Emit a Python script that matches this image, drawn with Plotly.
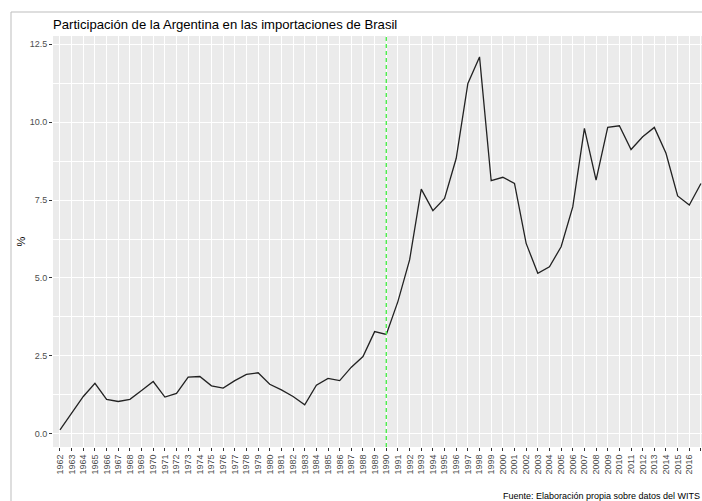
import plotly.graph_objects as go

anios = list(range(1962, 2018))
participacion = [
    0.13, 0.66, 1.20, 1.62, 1.11, 1.04, 1.11, 1.39, 1.68, 1.18,
    1.30, 1.82, 1.84, 1.54, 1.47, 1.71, 1.91, 1.96, 1.59, 1.41,
    1.20, 0.93, 1.56, 1.78, 1.71, 2.14, 2.48, 3.28, 3.19, 4.25,
    5.58, 7.85, 7.16, 7.55, 8.84, 11.24, 12.09, 8.12, 8.23, 8.03,
    6.11, 5.15, 5.36, 6.00, 7.28, 9.80, 8.14, 9.83, 9.88, 9.12,
    9.53, 9.83, 9.00, 7.63, 7.34, 8.03,
]
anio_corte = 1990
titulo = "Participación de la Argentina en las importaciones de Brasil"
fuente = "Fuente: Elaboración propia sobre datos del WITS"
y_ticks = [0.0, 2.5, 5.0, 7.5, 10.0, 12.5]

W, H = 702, 501
L, R, T, B = 53, 0, 36, 54
pw, ph = W - L - R, H - T - B

fig = go.Figure()
fig.add_trace(go.Scatter(
    x=anios, y=participacion, mode="lines",
    line=dict(color="#222222", width=1.3),
    showlegend=False, hoverinfo="x+y",
))

fig.add_shape(type="line", xref="x", yref="paper",
              x0=anio_corte, x1=anio_corte, y0=0, y1=1,
              line=dict(color="#4DEE4D", width=1.4, dash="4px,3px"))

# outer border of the plot background
fig.add_shape(type="rect", xref="paper", yref="paper",
              x0=(11 - L) / pw, x1=1.2, y0=-0.5, y1=(H - B - 12) / ph,
              line=dict(color="#BDBDBD", width=1), fillcolor="rgba(0,0,0,0)",
              layer="below")

fig.update_layout(
    width=W, height=H,
    margin=dict(l=L, r=R, t=T, b=B, pad=0),
    paper_bgcolor="white", plot_bgcolor="#EBEBEB",
    font=dict(family="Liberation Sans, Arial, sans-serif", color="#4D4D4D"),
    title=dict(text=titulo, xref="container", yref="container",
               x=L / W, xanchor="left", y=1 - 24 / H, yanchor="middle",
               font=dict(size=13.1, color="black")),
    xaxis=dict(
        range=[1961.4, 2017.09],
        tickmode="array", tickvals=anios, ticktext=[str(a) for a in anios],
        tickangle=-90, tickfont=dict(size=9, color="#4D4D4D"),
        ticks="outside", ticklen=3, tickcolor="#333333", tickwidth=1,
        showgrid=True, gridcolor="white", gridwidth=1.1,
        zeroline=False, showline=False,
    ),
    yaxis=dict(
        range=[-0.42, 12.76],
        tickmode="array", tickvals=y_ticks,
        ticktext=[f"{v:.1f}" for v in y_ticks],
        tickfont=dict(size=9, color="#4D4D4D"),
        ticks="outside", ticklen=3, tickcolor="#333333", tickwidth=1,
        showgrid=True, gridcolor="white", gridwidth=1.1,
        minor=dict(dtick=1.25, tick0=0, showgrid=True, gridcolor="white", gridwidth=0.5, ticks=""),
        zeroline=False, showline=False,
        title=dict(text="%", font=dict(size=11, color="black"), standoff=1),
    ),
    annotations=[dict(
        text=fuente, xref="paper", yref="paper",
        x=1, xanchor="right",
        y=-(496 - (H - B)) / ph, yanchor="middle",
        showarrow=False, font=dict(size=9, color="black"),
    )],
)

fig.write_html("out.html", config={"displayModeBar": False},
               post_script="document.body.style.margin='0';document.body.style.overflow='hidden';")
